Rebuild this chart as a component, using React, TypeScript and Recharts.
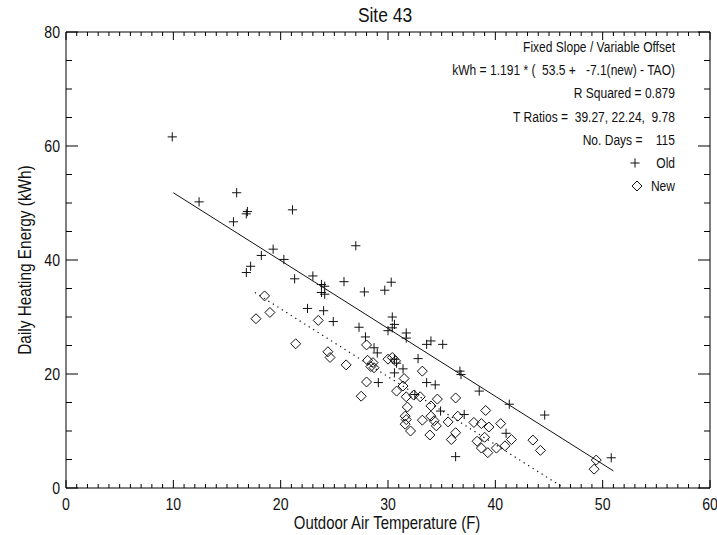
import React from 'react';
import { ScatterChart, Scatter, XAxis, YAxis, ReferenceLine, Customized } from 'recharts';

const FONT = "'Liberation Sans Narrow','Arial Narrow','Liberation Sans',Arial,sans-serif";
const NARROW = 0.83; // horizontal condensing of the sans font

// ---- text ----
const chartTitle = 'Site 43';
const xTitle = 'Outdoor Air Temperature (F)';
const yTitle = 'Daily Heating Energy (kWh)';
const fitText = [
  'Fixed Slope / Variable Offset',
  'kWh = 1.191 * (  53.5 +   -7.1(new) - TAO)',
  'R Squared = 0.879',
  'T Ratios =  39.27, 22.24,  9.78',
  'No. Days =    115',
];
const seriesNames = ['Old', 'New'];

// ---- axes ----
const xDomain = [0, 60];
const yDomain = [0, 80];
const xTicks = Array.from({ length: 61 }, (_, i) => i); // minor every 1, labelled every 10
const yTicks = Array.from({ length: 17 }, (_, i) => i * 5); // minor every 5, labelled every 20

// ---- data: [outdoor temp F, daily kWh] ----
const oldPoints: [number, number][] = [
  [9.9, 61.6], [12.4, 50.2], [15.9, 51.8], [16.8, 48.1], [16.9, 48.5], [15.6, 46.7],
  [21.1, 48.8], [27.0, 42.5], [19.3, 41.9], [18.2, 40.8], [20.3, 40.1], [17.2, 38.9],
  [16.8, 37.8], [21.3, 36.7], [23.0, 37.2], [25.9, 36.2], [23.8, 35.7], [24.1, 35.4],
  [23.8, 34.3], [24.1, 34.0], [27.8, 34.4], [29.7, 34.7], [30.3, 36.1], [22.5, 31.5],
  [24.0, 31.1], [24.9, 29.2], [30.4, 30.0], [30.6, 28.7], [30.4, 28.1], [30.0, 27.6],
  [31.7, 27.2], [31.7, 26.3], [27.3, 28.2], [27.9, 26.5], [33.6, 25.2], [34.0, 25.8],
  [35.1, 25.2], [28.7, 24.6], [29.0, 23.7], [32.8, 22.7], [30.8, 21.9], [31.4, 20.9],
  [30.6, 20.2], [33.6, 18.5], [34.4, 18.1], [29.1, 18.5], [34.9, 13.5], [36.3, 5.5],
  [36.7, 20.5], [36.8, 19.9], [38.5, 17.0], [41.3, 14.7], [37.1, 12.9], [41.0, 9.6],
  [44.6, 12.8], [50.8, 5.3], [32.5, 16.4], [30.6, 22.6],
];
const newPoints: [number, number][] = [
  [18.5, 33.7], [19.0, 30.8], [17.7, 29.7], [23.5, 29.4], [21.4, 25.3], [24.4, 23.9],
  [24.6, 22.9], [26.1, 21.6], [28.0, 25.1], [28.1, 22.4], [28.6, 22.0], [28.7, 21.1],
  [28.4, 21.3], [30.0, 22.6], [30.4, 22.9], [30.7, 22.3], [28.0, 18.6], [27.5, 16.1],
  [30.8, 17.0], [31.5, 19.2], [31.4, 17.9], [31.7, 16.0], [32.4, 16.3], [33.0, 16.0],
  [33.2, 20.5], [31.8, 14.2], [31.6, 12.6], [31.7, 12.0], [31.6, 11.2], [34.0, 14.4],
  [34.6, 15.6], [33.2, 11.9], [32.1, 10.0], [34.0, 12.6], [34.3, 11.8], [34.5, 10.9],
  [33.9, 9.3], [35.6, 11.6], [36.3, 15.8], [36.3, 9.7], [35.9, 8.5], [36.5, 12.6],
  [39.1, 13.6], [38.0, 11.5], [38.7, 11.3], [39.4, 10.7], [40.5, 11.3], [39.0, 8.9],
  [38.3, 8.2], [38.7, 7.0], [39.3, 6.2], [40.1, 7.0], [40.9, 7.4], [41.5, 8.5],
  [43.5, 8.4], [44.2, 6.6], [49.4, 4.9], [49.2, 3.3],
];
// fitted lines (endpoints of kWh = 1.191*(53.5 - T) and 1.191*(46.4 - T))
const oldFitLine = [{ t: 10, kwh: 51.8 }, { t: 51, kwh: 3.0 }];
const newFitLine = [{ t: 17.6, kwh: 34.3 }, { t: 46.4, kwh: 0 }];

const oldData = oldPoints.map(([t, kwh]) => ({ t, kwh }));
const newData = newPoints.map(([t, kwh]) => ({ t, kwh }));

// ---- helpers ----
const NText = (p: {
  x: number; y: number; size: number; anchor?: 'start' | 'middle' | 'end';
  rotate?: number; children: React.ReactNode;
}) => (
  <text
    transform={`translate(${p.x} ${p.y})${p.rotate ? ` rotate(${p.rotate})` : ''} scale(${NARROW} 1)`}
    x={0} y={0} textAnchor={p.anchor || 'start'} fontSize={p.size} fontFamily={FONT}
    fill="#111" style={{ whiteSpace: 'pre' }}
  >
    {p.children}
  </text>
);

const plusPath = (cx: number, cy: number, r: number) =>
  `M${cx - r},${cy}H${cx + r}M${cx},${cy - r}V${cy + r}`;
const diamondPath = (cx: number, cy: number, r: number) =>
  `M${cx},${cy - r}L${cx + r},${cy}L${cx},${cy + r}L${cx - r},${cy}Z`;

const PlusShape = (p: any) => (
  <path d={plusPath(p.cx, p.cy, 4.6)} stroke="#111" strokeWidth={1} fill="none" />
);
const DiamondShape = (p: any) => (
  <path d={diamondPath(p.cx, p.cy, 5)} stroke="#111" strokeWidth={1} fill="none" />
);

// ---- ticks ----
const BottomTick = (props: any) => {
  const { x, y, payload } = props;
  const v = payload.value;
  const major = v % 10 === 0;
  return (
    <g>
      <line x1={x} x2={x} y1={y} y2={y - (major ? 8 : 4)} stroke="#000" strokeWidth={1} />
      {major && <NText x={x} y={y + 22} size={17} anchor="middle">{v}</NText>}
    </g>
  );
};
const TopTick = (props: any) => {
  const { x, y, payload } = props;
  const major = payload.value % 10 === 0;
  return <line x1={x} x2={x} y1={y} y2={y + (major ? 8 : 4)} stroke="#000" strokeWidth={1} />;
};
const LeftTick = (props: any) => {
  const { x, y, payload } = props;
  const v = payload.value;
  const major = v % 20 === 0;
  return (
    <g>
      <line x1={x} x2={x + (major ? 12 : 6)} y1={y} y2={y} stroke="#000" strokeWidth={1} />
      {major && <NText x={x - 6} y={y + 6} size={17} anchor="end">{v}</NText>}
    </g>
  );
};
const RightTick = (props: any) => {
  const { x, y, payload } = props;
  const major = payload.value % 20 === 0;
  return <line x1={x} x2={x - (major ? 12 : 6)} y1={y} y2={y} stroke="#000" strokeWidth={1} />;
};

const Annotations = () => (
  <g>
    <NText x={385} y={22} size={21} anchor="middle">{chartTitle}</NText>
    <NText x={387} y={529} size={18} anchor="middle">{xTitle}</NText>
    <NText x={31} y={260} size={18.5} anchor="middle" rotate={-90}>{yTitle}</NText>
    {fitText.map((s, i) => (
      <NText key={i} x={675} y={52 + i * 23.2} size={14.5} anchor="end">{s}</NText>
    ))}
    <path d={plusPath(635, 163, 4.6)} stroke="#111" fill="none" />
    <NText x={675} y={168} size={14.5} anchor="end">{seriesNames[0]}</NText>
    <path d={diamondPath(637, 186, 5)} stroke="#111" fill="none" />
    <NText x={675} y={191} size={14.5} anchor="end">{seriesNames[1]}</NText>
  </g>
);

export default function App() {
  return (
    <div style={{ position: 'absolute', left: 0, top: 0, width: 717, height: 535, background: '#fff' }}>
      <ScatterChart width={717} height={535} margin={{ top: 0, right: 0, bottom: 0, left: 0 }}>
        <XAxis
          dataKey="t" type="number" domain={xDomain} ticks={xTicks} interval={0}
          height={47} tickSize={0} tickMargin={0} tickLine={false}
          axisLine={{ stroke: '#000' }} tick={<BottomTick />} allowDataOverflow
        />
        <XAxis
          xAxisId="top" orientation="top" dataKey="t" type="number" domain={xDomain} ticks={xTicks}
          interval={0} height={32} tickSize={0} tickMargin={0} tickLine={false}
          axisLine={{ stroke: '#000' }} tick={<TopTick />} allowDataOverflow
        />
        <YAxis
          dataKey="kwh" type="number" domain={yDomain} ticks={yTicks} interval={0}
          width={66} tickSize={0} tickMargin={0} tickLine={false}
          axisLine={{ stroke: '#000' }} tick={<LeftTick />} allowDataOverflow
        />
        <YAxis
          yAxisId="right" orientation="right" dataKey="kwh" type="number" domain={yDomain} ticks={yTicks}
          interval={0} width={7} tickSize={0} tickMargin={0} tickLine={false}
          axisLine={{ stroke: '#000' }} tick={<RightTick />} allowDataOverflow
        />
        <ReferenceLine
          segment={[{ x: oldFitLine[0].t, y: oldFitLine[0].kwh }, { x: oldFitLine[1].t, y: oldFitLine[1].kwh }]}
          stroke="#111" strokeWidth={1}
        />
        <ReferenceLine
          segment={[{ x: newFitLine[0].t, y: newFitLine[0].kwh }, { x: newFitLine[1].t, y: newFitLine[1].kwh }]}
          stroke="#111" strokeWidth={1.2} strokeDasharray="1.3 4"
        />
        <Scatter name={seriesNames[0]} data={oldData} shape={<PlusShape />} isAnimationActive={false} />
        <Scatter name={seriesNames[1]} data={newData} shape={<DiamondShape />} isAnimationActive={false} />
        <Customized component={<Annotations />} />
      </ScatterChart>
    </div>
  );
}
